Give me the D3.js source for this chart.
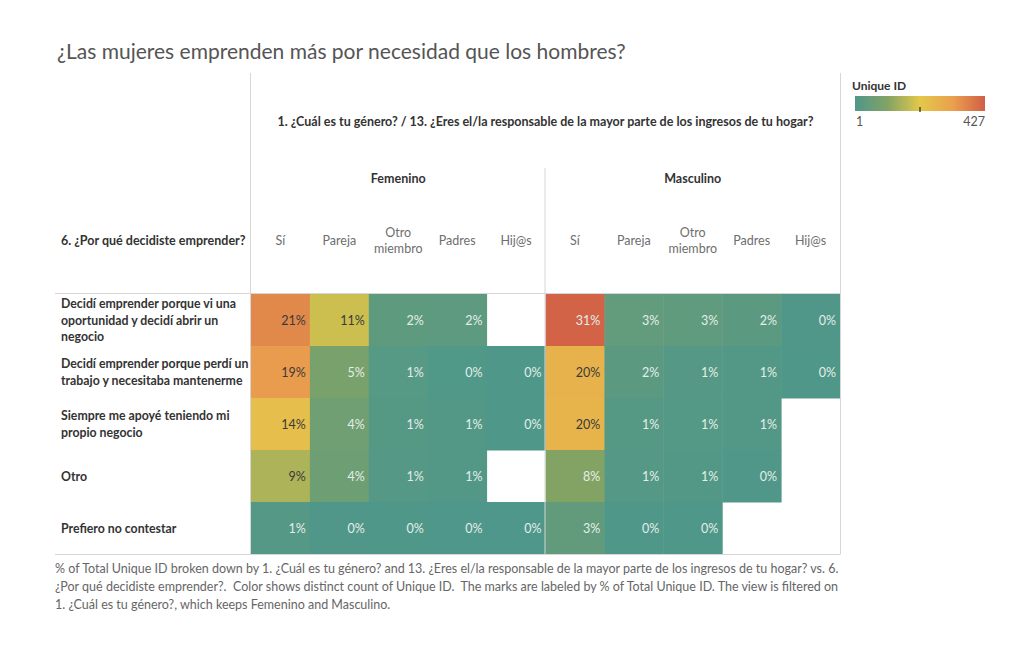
<!DOCTYPE html>
<html>
<head>
<meta charset="utf-8">
<script src="https://cdn.jsdelivr.net/npm/d3@7"></script>
<style>
  body { margin: 0; background: #fff; }
  svg { font-family: Lato, "Noto Sans", sans-serif; }
</style>
</head>
<body>
<svg id="chart"></svg>
<script>
// data
var genders = ["Femenino", "Masculino"];
var responsables = ["Sí", "Pareja", "Otro miembro", "Padres", "Hij@s"];
var reasons = [
  "Decidí emprender porque vi una oportunidad y decidí abrir un negocio",
  "Decidí emprender porque perdí un trabajo y necesitaba mantenerme",
  "Siempre me apoyé teniendo mi propio negocio",
  "Otro",
  "Prefiero no contestar"
];
var reasonLines = [
  ["Decidí emprender porque vi una", "oportunidad y decidí abrir un", "negocio"],
  ["Decidí emprender porque perdí un", "trabajo y necesitaba mantenerme"],
  ["Siempre me apoyé teniendo mi", "propio negocio"],
  ["Otro"],
  ["Prefiero no contestar"]
];

// % of total (label) per row, per column; null = no mark
var pctFemenino = [
  [21, 11, 2, 2, null],
  [19, 5, 1, 0, 0],
  [14, 4, 1, 1, 0],
  [9, 4, 1, 1, null],
  [1, 0, 0, 0, 0]
];
var pctMasculino = [
  [31, 3, 3, 2, 0],
  [20, 2, 1, 1, 0],
  [20, 1, 1, 1, null],
  [8, 1, 1, 0, null],
  [3, 0, 0, null, null]
];
// distinct count of Unique ID (colour), estimated
var countFemenino = [
  [360, 189, 34, 31, null],
  [326, 86, 17, 6, 4],
  [240, 69, 15, 12, 3],
  [154, 67, 14, 11, null],
  [14, 5, 3, 2, 1]
];
var countMasculino = [
  [420, 41, 38, 27, 5],
  [271, 27, 14, 12, 3],
  [268, 15, 13, 11, null],
  [108, 14, 12, 5, null],
  [40, 4, 3, null, null]
];
var colorDomain = [1, 427];

var width = 1024, height = 645;
var svg = d3.select("#chart").attr("width", width).attr("height", height);

var gridLeft = 251, gridRight = 840, gridTop = 294, gridBottom = 554;
var mid = (gridLeft + gridRight) / 2;

var xGender = d3.scaleBand().domain(genders).range([gridLeft, gridRight]);
var xCol = d3.scaleBand().domain(responsables).range([0, xGender.bandwidth()]);
var y = d3.scaleBand().domain(reasons).range([gridTop, gridBottom]);

var color = d3.scaleLinear()
  .domain([1, 107, 214, 320, 427])
  .range(["#4e978a", "#82a365", "#e3c84a", "#eba04e", "#d15f47"])
  .interpolate(d3.interpolateRgb);

// build cells
var cells = [];
genders.forEach(function(g, gi) {
  var pct = gi == 0 ? pctFemenino : pctMasculino;
  var cnt = gi == 0 ? countFemenino : countMasculino;
  reasons.forEach(function(r, ri) {
    responsables.forEach(function(c, ci) {
      if (pct[ri][ci] !== null) {
        cells.push({gender: g, reason: r, col: c, pct: pct[ri][ci], count: cnt[ri][ci]});
      }
    });
  });
});

// title
svg.append("text")
  .attr("x", 57).attr("y", 59)
  .attr("font-size", 21)
  .attr("fill", "#555")
  .text("¿Las mujeres emprenden más por necesidad que los hombres?");

// cells
svg.append("g").selectAll("rect")
  .data(cells)
  .enter()
  .append("rect")
  .attr("x", function(d) { return xGender(d.gender) + xCol(d.col); })
  .attr("y", function(d) { return y(d.reason); })
  .attr("width", xCol.bandwidth() + 0.5)
  .attr("height", y.bandwidth() + 0.5)
  .attr("fill", function(d) { return color(d.count); });

svg.append("g").selectAll("text")
  .data(cells)
  .enter()
  .append("text")
  .attr("x", function(d) { return xGender(d.gender) + xCol(d.col) + xCol.bandwidth() - 4; })
  .attr("y", function(d) { return y(d.reason) + y.bandwidth() / 2 + 4.5; })
  .attr("text-anchor", "end")
  .attr("font-size", 12.5)
  .attr("fill", function(d) { return d3.lab(color(d.count)).l > 64 ? "#3a3a3a" : "#e4eee8"; })
  .text(function(d) { return d.pct + "%"; });

// grid lines
var lineColor = "#d6d6d6";
function hline(x1, x2, yy) {
  svg.append("line").attr("x1", x1).attr("x2", x2).attr("y1", yy).attr("y2", yy)
    .attr("stroke", lineColor).attr("stroke-width", 1);
}
function vline(xx, y1, y2) {
  svg.append("line").attr("x1", xx).attr("x2", xx).attr("y1", y1).attr("y2", y2)
    .attr("stroke", lineColor).attr("stroke-width", 1);
}
hline(55, gridRight, gridTop - 0.5);
hline(55, gridRight, gridBottom + 0.5);
vline(gridLeft - 0.5, 73, gridBottom + 0.5);
vline(gridRight + 0.5, 73, gridBottom + 0.5);
vline(xGender("Masculino") - 0.5, 168, gridBottom + 0.5);

// column header
svg.append("text")
  .attr("x", mid).attr("y", 126)
  .attr("text-anchor", "middle")
  .attr("font-size", 12.5).attr("font-weight", "bold")
  .attr("fill", "#333")
  .text("1. ¿Cuál es tu género? / 13. ¿Eres el/la responsable de la mayor parte de los ingresos de tu hogar?");

svg.append("g").selectAll("text")
  .data(genders)
  .enter()
  .append("text")
  .attr("x", function(d) { return xGender(d) + xGender.bandwidth() / 2; })
  .attr("y", 183)
  .attr("text-anchor", "middle")
  .attr("font-size", 12.5).attr("font-weight", "bold")
  .attr("fill", "#333")
  .text(function(d) { return d; });

var colLabels = [];
genders.forEach(function(g) {
  responsables.forEach(function(c) { colLabels.push({gender: g, col: c}); });
});
var cl = svg.append("g").selectAll("text")
  .data(colLabels)
  .enter()
  .append("text")
  .attr("x", function(d) { return xGender(d.gender) + xCol(d.col) + xCol.bandwidth() / 2; })
  .attr("y", 245)
  .attr("text-anchor", "middle")
  .attr("font-size", 12.5)
  .attr("fill", "#6e6e6e");
cl.each(function(d) {
  var t = d3.select(this);
  var parts = d.col == "Otro miembro" ? ["Otro", "miembro"] : [d.col];
  parts.forEach(function(p, i) {
    t.append("tspan")
      .attr("x", t.attr("x"))
      .attr("dy", parts.length > 1 ? (i == 0 ? -8 : 16) : 0)
      .text(p);
  });
});

// row header
svg.append("text")
  .attr("x", 61).attr("y", 245)
  .attr("font-size", 12.5).attr("font-weight", "bold")
  .attr("fill", "#333")
  .text("6. ¿Por qué decidiste emprender?");

svg.append("g").selectAll("text")
  .data(reasons)
  .enter()
  .append("text")
  .attr("font-size", 12.3).attr("font-weight", "bold")
  .attr("fill", "#333")
  .each(function(d, i) {
    var t = d3.select(this);
    var lines = reasonLines[i];
    var startY = y(d) + y.bandwidth() / 2 - (lines.length - 1) * 8.25 + 4.5;
    lines.forEach(function(l, j) {
      t.append("tspan").attr("x", 61).attr("y", startY + j * 16.5).text(l);
    });
  });

// legend
var legX = 855, legW = 130, legY = 96, legH = 15;
var grad = svg.append("defs").append("linearGradient").attr("id", "leg");
d3.range(0, 1.0001, 0.05).forEach(function(t) {
  grad.append("stop")
    .attr("offset", (t * 100) + "%")
    .attr("stop-color", color(colorDomain[0] + t * (colorDomain[1] - colorDomain[0])));
});
svg.append("text").attr("x", 852).attr("y", 90)
  .attr("font-size", 12).attr("font-weight", "bold").attr("fill", "#333")
  .text("Unique ID");
svg.append("rect").attr("x", legX).attr("y", legY).attr("width", legW).attr("height", legH)
  .attr("fill", "url(#leg)");
var legScale = d3.scaleLinear().domain(colorDomain).range([legX, legX + legW]);
svg.append("line")
  .attr("x1", legScale(214)).attr("x2", legScale(214))
  .attr("y1", legY + legH - 4).attr("y2", legY + legH + 1)
  .attr("stroke", "#222").attr("stroke-width", 1.2);
svg.append("text").attr("x", legScale(colorDomain[0]) + 1).attr("y", 126)
  .attr("font-size", 12.5).attr("fill", "#555").text(colorDomain[0]);
svg.append("text").attr("x", legScale(colorDomain[1])).attr("y", 126)
  .attr("text-anchor", "end")
  .attr("font-size", 12.5).attr("fill", "#555").text(colorDomain[1]);

// footnote
var notes = [
  "% of Total Unique ID broken down by 1. ¿Cuál es tu género? and 13. ¿Eres el/la responsable de la mayor parte de los ingresos de tu hogar? vs. 6.",
  "¿Por qué decidiste emprender?.  Color shows distinct count of Unique ID.  The marks are labeled by % of Total Unique ID. The view is filtered on",
  "1. ¿Cuál es tu género?, which keeps Femenino and Masculino."
];
svg.append("g").selectAll("text")
  .data(notes)
  .enter()
  .append("text")
  .attr("x", 55)
  .attr("y", function(d, i) { return 573 + i * 18; })
  .attr("font-size", 12.5)
  .attr("fill", "#666")
  .attr("xml:space", "preserve")
  .text(function(d) { return d; });
</script>
</body>
</html>
